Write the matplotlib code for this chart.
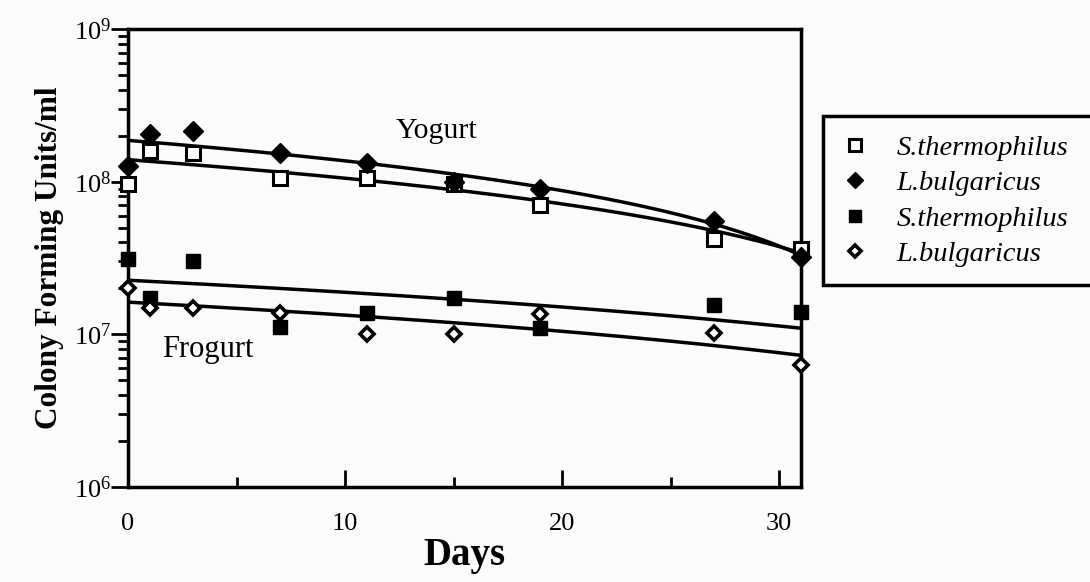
import numpy as np
import matplotlib
matplotlib.use("Agg")
import matplotlib.pyplot as plt
from matplotlib.patches import Rectangle
from matplotlib.ticker import LogLocator, FixedLocator, NullFormatter

plt.rcParams['font.family'] = ['Liberation Serif', 'DejaVu Serif']
plt.rcParams['mathtext.fontset'] = 'custom'
plt.rcParams['mathtext.rm'] = 'Liberation Serif'
plt.rcParams['mathtext.it'] = 'Liberation Serif:italic'
plt.rcParams['mathtext.bf'] = 'Liberation Serif:bold'

# Sampling days
days = [0, 1, 3, 7, 11, 15, 19, 27, 31]

# Yogurt counts (CFU/ml)
yog_sth = [0.97e8, 1.6e8, 1.55e8, 1.05e8, 1.05e8, 0.97e8, 7.0e7, 4.2e7, 3.6e7]
yog_lbu = [1.27e8, 2.06e8, 2.15e8, 1.55e8, 1.33e8, 1.0e8, 9.0e7, 5.5e7, 3.2e7]

# Frozen yogurt counts (CFU/ml)
fro_sth = [3.1e7, 1.72e7, 3.0e7, 1.11e7, 1.37e7, 1.72e7, 1.1e7, 1.55e7, 1.4e7]
fro_lbu = [2.0e7, 1.48e7, 1.48e7, 1.37e7, 1.0e7, 1.0e7, 1.35e7, 1.02e7, 6.3e6]

legend_labels = ['S.thermophilus', 'L.bulgaricus', 'S.thermophilus', 'L.bulgaricus']

W, H = 1090, 582
bg = '#fbfbfb'
fig = plt.figure(figsize=(W / 100, H / 100), dpi=100)
fig.patch.set_facecolor(bg)
ax = fig.add_axes([128 / W, 1 - 487 / H, (801 - 128) / W, (487 - 29) / H])
ax.set_facecolor(bg)

x = np.array(days, dtype=float)
xfit = np.linspace(0, 31, 200)

series = [
    (yog_sth, dict(marker='s', mfc='white', mec='black', mew=2.2, ms=10)),
    (yog_lbu, dict(marker='D', mfc='black', mec='black', mew=1, ms=10)),
    (fro_sth, dict(marker='s', mfc='black', mec='black', mew=1, ms=10)),
    (fro_lbu, dict(marker='D', mfc='white', mec='black', mew=2.6, ms=7)),
]

handles = []
for vals, style in series:
    y = np.array(vals)
    # linear least-squares trend, shown on the log axis
    coef = np.polyfit(x, y, 1)
    ax.plot(xfit, np.polyval(coef, xfit), color='black', lw=2.5, zorder=2)
    h, = ax.plot(x, y, linestyle='none', zorder=3, clip_on=False, **style)
    handles.append(h)

ax.set_yscale('log')
ax.set_xlim(0, 31)
ax.set_ylim(1e6, 1e9)

ax.xaxis.set_major_locator(FixedLocator([0, 10, 20, 30]))
ax.xaxis.set_minor_locator(FixedLocator([5, 15, 25]))
ax.yaxis.set_major_locator(FixedLocator([1e6, 1e7, 1e8, 1e9]))
ax.yaxis.set_minor_locator(LogLocator(base=10, subs=np.arange(2, 10)))
ax.yaxis.set_minor_formatter(NullFormatter())
ax.set_yticklabels([r'$10^6$', r'$10^7$', r'$10^8$', r'$10^9$'])

ax.tick_params(axis='x', which='major', direction='in', length=12, width=2,
               labelsize=19, pad=19, top=False)
ax.tick_params(axis='x', which='minor', direction='in', length=7, width=2, top=False)
ax.tick_params(axis='y', which='major', direction='out', length=12, width=2,
               labelsize=19, pad=0, right=False)
ax.tick_params(axis='y', which='minor', direction='out', length=7, width=2, right=False)

for s in ax.spines.values():
    s.set_linewidth(2.5)

ax.set_xlabel('Days', fontsize=28, fontweight='bold', labelpad=1)
ax.set_ylabel('Colony Forming Units/ml', fontsize=22.5, fontweight='bold', labelpad=7)

ax.text(14.2, 2.15e8, 'Yogurt', fontsize=21.5, ha='center', va='center')
ax.text(1.55, 7.9e6, 'Frogurt', fontsize=22, ha='left', va='center')

# legend box runs off the right edge of the figure
fig.patches.append(Rectangle((823 / W, 1 - 285 / H), (1100 - 823) / W, (285 - 116) / H,
                             transform=fig.transFigure, facecolor=bg,
                             edgecolor='black', linewidth=2.5, zorder=1))

leg = fig.legend(handles, legend_labels, loc='upper left',
                 bbox_to_anchor=(841 / W, 1 - 135 / H),
                 frameon=False,
                 prop={'family': 'Liberation Serif', 'style': 'italic', 'size': 20.5},
                 handlelength=0.95, handletextpad=1.0, labelspacing=0.33,
                 borderpad=0, borderaxespad=0)
for lh in leg.legend_handles:
    lh.set_markersize(lh.get_markersize() * 0.85)

fig.savefig('out.png', dpi=100, facecolor=fig.get_facecolor())
